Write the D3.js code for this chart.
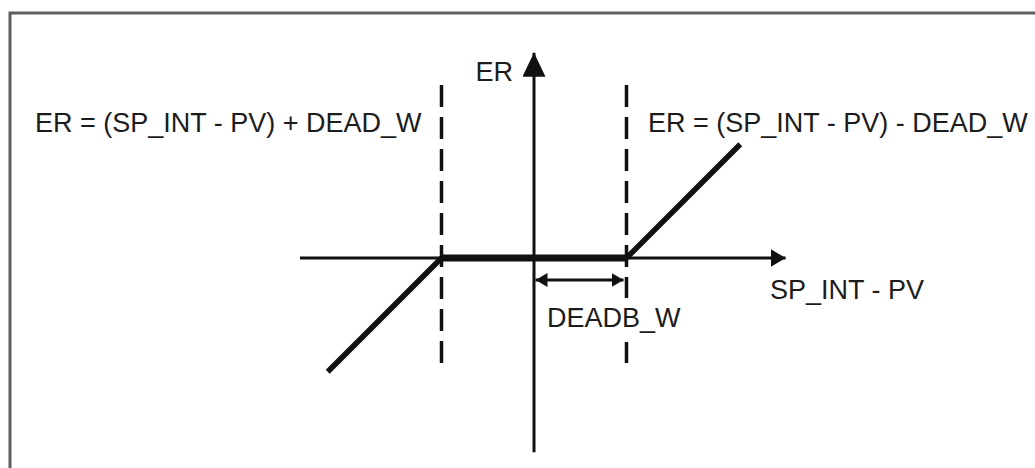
<!DOCTYPE html>
<html>
<head>
<meta charset="utf-8">
<script src="https://cdn.jsdelivr.net/npm/d3@7"></script>
<style>
  html, body { margin: 0; padding: 0; background: #fff; }
  svg { display: block; }
  text { font-family: "Liberation Sans", Arial, sans-serif; fill: #1c1c1c; }
</style>
</head>
<body>
<svg id="chart" width="1035" height="468"></svg>
<script>
// ---- data (in units of DEADB_W) ----
const deadband = 1;                       // DEADB_W half-width
const deadbandLines = [-deadband, deadband];
const curveLeft  = [{x: -2.23, er: -1.23}, {x: -1, er: 0}];
const curveFlat  = [{x: -1, er: 0}, {x: 1, er: 0}];
const curveRight = [{x: 1, er: 0}, {x: 2.23, er: 1.23}];
const xAxisRange = [-2.53, 2.72];
const yAxisRange = [-2.10, 2.22];
const dashRange  = [-1.15, 1.87];
const labels = {
  yAxis: "ER",
  xAxis: "SP_INT - PV",
  deadband: "DEADB_W",
  left: "ER = (SP_INT - PV) + DEAD_W",
  right: "ER = (SP_INT - PV) - DEAD_W"
};

const svg = d3.select("#chart");
const x = d3.scaleLinear().domain([-1, 1]).range([441.5, 626.5]);
const y = d3.scaleLinear().domain([-1, 1]).range([258 + 92.5, 258 - 92.5]);
const ink = "#111";

// frame
svg.append("rect").attr("x", 10).attr("y", 13).attr("width", 1040).attr("height", 470)
  .attr("fill", "none").attr("stroke", "#5e5e5e").attr("stroke-width", 3);

// arrow markers
const defs = svg.append("defs");
function marker(id, len, half, orient) {
  defs.append("marker").attr("id", id)
    .attr("markerUnits", "userSpaceOnUse")
    .attr("viewBox", `0 ${-half} ${len} ${2*half}`)
    .attr("refX", len).attr("refY", 0)
    .attr("markerWidth", len).attr("markerHeight", 2*half)
    .attr("orient", orient)
    .append("path").attr("d", `M0,${-half}L${len},0L0,${half}Z`).attr("fill", ink);
}
marker("axArrowY", 24, 11.5, "auto");
marker("axArrowX", 15, 9, "auto");
marker("dimArrow", 12, 7, "auto-start-reverse");

// dashed deadband lines
svg.selectAll(".dash").data(deadbandLines).join("line").attr("class", "dash")
  .attr("x1", d => x(d)).attr("x2", d => x(d))
  .attr("y1", y(dashRange[1])).attr("y2", y(dashRange[0]))
  .attr("stroke", ink).attr("stroke-width", 3.5).attr("stroke-dasharray", "22,10");

// axes
svg.append("line")
  .attr("x1", x(xAxisRange[0])).attr("x2", x(xAxisRange[1]))
  .attr("y1", y(0)).attr("y2", y(0))
  .attr("stroke", ink).attr("stroke-width", 3).attr("marker-end", "url(#axArrowX)");
svg.append("line")
  .attr("x1", x(0)).attr("x2", x(0))
  .attr("y1", y(yAxisRange[0])).attr("y2", y(yAxisRange[1]))
  .attr("stroke", ink).attr("stroke-width", 3).attr("marker-end", "url(#axArrowY)");

// transfer curve
const line = d3.line().x(d => x(d.x)).y(d => y(d.er));
[curveLeft, curveRight].forEach(seg => {
  svg.append("path").attr("d", line(seg)).attr("fill", "none")
    .attr("stroke", ink).attr("stroke-width", 5.5).attr("stroke-linecap", "butt");
});
svg.append("path").attr("d", line(curveFlat)).attr("fill", "none")
  .attr("stroke", ink).attr("stroke-width", 7);

// deadband dimension arrow
svg.append("line")
  .attr("x1", x(0) + 1.5).attr("x2", x(deadband) - 3)
  .attr("y1", y(0) + 22).attr("y2", y(0) + 22)
  .attr("stroke", ink).attr("stroke-width", 3)
  .attr("marker-start", "url(#dimArrow)").attr("marker-end", "url(#dimArrow)");

// labels
const fs = "27px";
svg.append("text").text(labels.yAxis).attr("x", x(0) - 21).attr("y", 81)
  .attr("text-anchor", "end").style("font-size", fs);
svg.append("text").text(labels.xAxis).attr("x", 770).attr("y", 299)
  .style("font-size", fs);
const dbText = svg.append("text").text(labels.deadband).attr("x", x(0) + 13).attr("y", 327)
  .style("font-size", fs);
const bb = dbText.node().getBBox();
svg.insert("rect", "text").attr("x", bb.x - 2).attr("y", 298)
  .attr("width", bb.width + 4).attr("height", 44).attr("fill", "#fff");
svg.append("text").text(labels.left).attr("x", 35).attr("y", 132)
  .style("font-size", fs);
svg.append("text").text(labels.right).attr("x", 648).attr("y", 132)
  .style("font-size", fs);
</script>
</body>
</html>
